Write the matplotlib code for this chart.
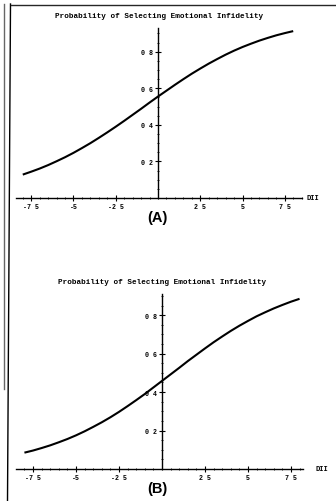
import matplotlib
matplotlib.use('Agg')
import matplotlib.pyplot as plt
from matplotlib.lines import Line2D
from matplotlib.ticker import MultipleLocator, FixedLocator

# -----------------------------
# Data
# -----------------------------
dii = [-8, -7.5, -7, -6.5, -6, -5.5, -5, -4.5, -4, -3.5, -3, -2.5, -2, -1.5,
       -1, -0.5, 0, 0.5, 1, 1.5, 2, 2.5, 3, 3.5, 4, 4.5, 5, 5.5, 6, 6.5,
       7, 7.5, 8]
prob_a = [0.128, 0.144, 0.161, 0.180, 0.201, 0.223, 0.247, 0.273, 0.300,
          0.329, 0.359, 0.390, 0.422, 0.455, 0.488, 0.522, 0.555, 0.587,
          0.619, 0.650, 0.680, 0.708, 0.735, 0.760, 0.784, 0.806, 0.826,
          0.844, 0.861, 0.876, 0.890, 0.902, 0.913]
prob_b = [0.085, 0.096, 0.109, 0.123, 0.139, 0.156, 0.175, 0.196, 0.219,
          0.243, 0.269, 0.297, 0.327, 0.358, 0.390, 0.424, 0.458, 0.492,
          0.526, 0.561, 0.594, 0.627, 0.659, 0.689, 0.718, 0.745, 0.770,
          0.794, 0.815, 0.835, 0.853, 0.870, 0.885]

xticks = [-7.5, -5, -2.5, 2.5, 5, 7.5]
xticklabels = ['-7 5', '-5', '-2 5', '2 5', '5', '7 5']
yticks = [0.2, 0.4, 0.6, 0.8]
yticklabels = ['0 2', '0 4', '0 6', '0 8']

title = 'Probability of Selecting Emotional Infidelity'

plt.rcParams['font.family'] = ['Liberation Mono', 'DejaVu Sans Mono']
plt.rcParams['font.weight'] = 'bold'

W, H = 336, 502
fig = plt.figure(figsize=(W / 100, H / 100), dpi=100)


def px_axes(left, right, top, bottom):
    return fig.add_axes([left / W, 1 - bottom / H, (right - left) / W, (bottom - top) / H])


def draw_panel(ax, y, xlim, ylim):
    ax.plot(dii, y, color='black', lw=1.5, solid_capstyle='butt')
    ax.set_xlim(*xlim)
    ax.set_ylim(*ylim)
    for s in ('top', 'right'):
        ax.spines[s].set_visible(False)
    ax.spines['left'].set_position(('data', 0))
    ax.spines['bottom'].set_position(('data', 0))
    for s in ('left', 'bottom'):
        ax.spines[s].set_linewidth(1.0)
    ax.set_facecolor('none')
    ax.xaxis.set_major_locator(FixedLocator(xticks))
    ax.set_xticklabels(xticklabels)
    ax.yaxis.set_major_locator(FixedLocator(yticks))
    ax.set_yticklabels(yticklabels)
    ax.xaxis.set_minor_locator(MultipleLocator(0.5))
    ax.yaxis.set_minor_locator(MultipleLocator(0.05))
    ax.tick_params(which='major', direction='inout', length=4, width=0.8,
                   labelsize=4.8, pad=1.5)
    ax.tick_params(which='minor', direction='inout', length=2, width=0.6)


# (A)
ax_a = px_axes(16, 302, 29, 199)
draw_panel(ax_a, prob_a, (-8.4, 8.52), (0, 0.93))
fig.text(159 / W, 1 - 17 / H, title, ha='center', va='center', fontsize=5.5)
fig.text(313 / W, 1 - 199 / H, 'DII', ha='center', va='center', fontsize=5)
fig.text(157 / W, 1 - 218 / H, '(A)', ha='center', va='center', fontsize=10.5,
         family='Liberation Sans', weight='bold')

# (B)
ax_b = px_axes(16, 303, 295, 470)
draw_panel(ax_b, prob_b, (-8.49, 8.2), (0, 0.91))
fig.text(162 / W, 1 - 283 / H, title, ha='center', va='center', fontsize=5.5)
fig.text(322 / W, 1 - 470 / H, 'DII', ha='center', va='center', fontsize=5)
fig.text(157 / W, 1 - 489 / H, '(B)', ha='center', va='center', fontsize=10.5,
         family='Liberation Sans', weight='bold')

# scanned page frame
fig.add_artist(Line2D([3.5 / W, 3.5 / W], [1 - 5 / H, 1 - 390 / H], color='0.4', lw=1.0))
fig.add_artist(Line2D([10.5 / W, 7.5 / W], [1 - 5 / H, 0], color='black', lw=1.0))
fig.add_artist(Line2D([10.5 / W, 1], [1 - 5.5 / H, 1 - 5.5 / H], color='0.15', lw=1.0))

fig.savefig('out.png', dpi=100)
